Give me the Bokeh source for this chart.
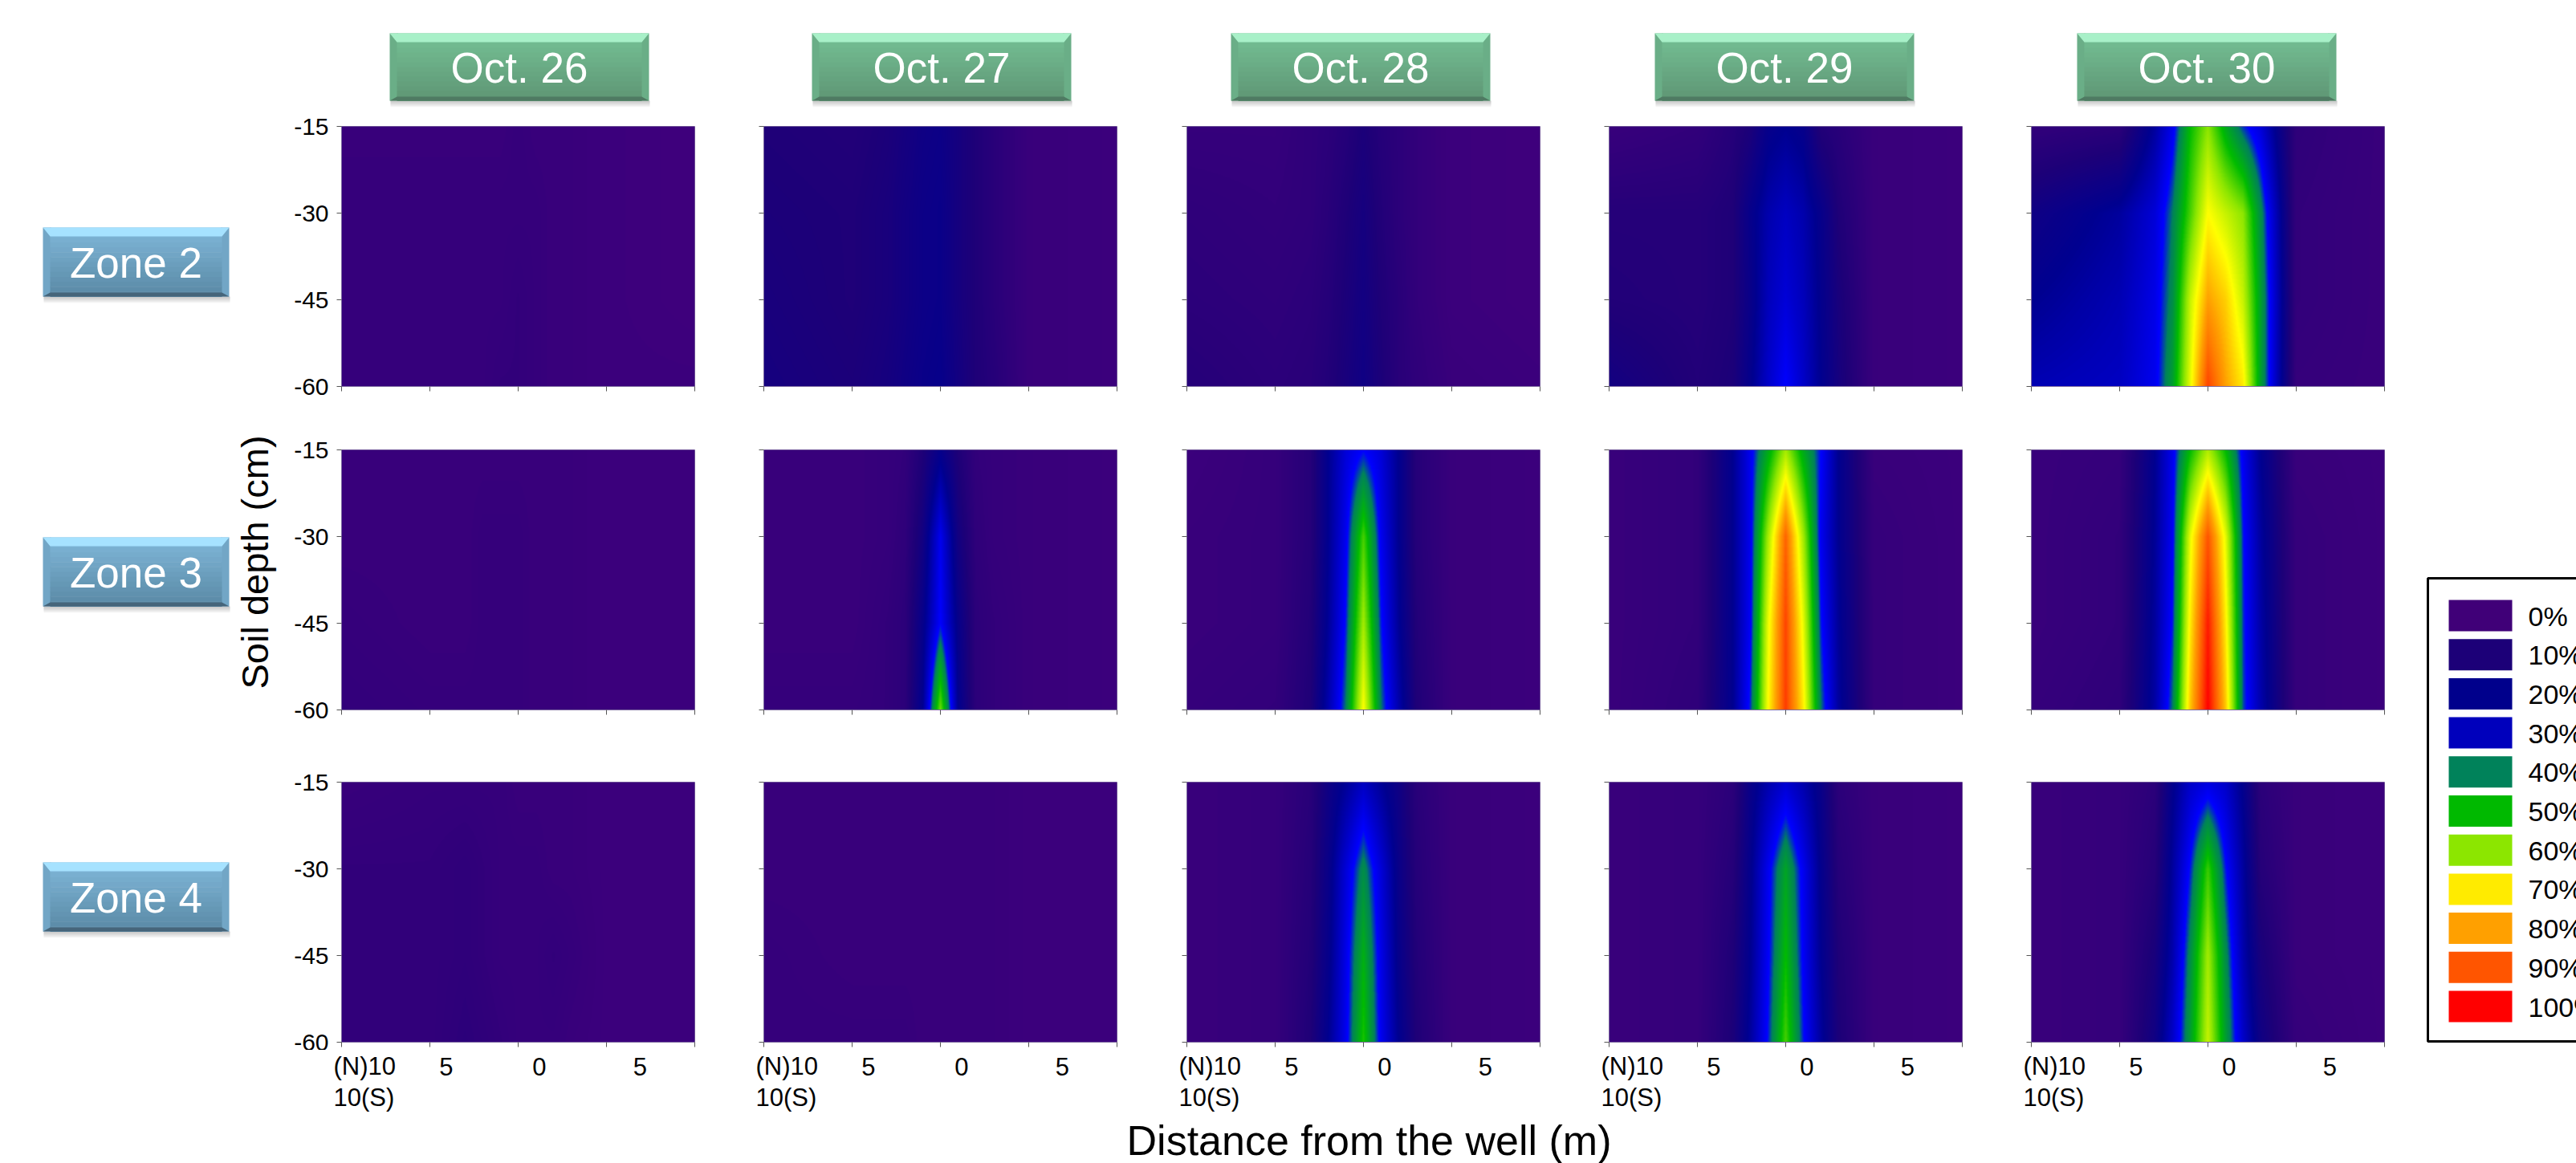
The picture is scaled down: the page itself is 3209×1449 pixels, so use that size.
import numpy as np
from bokeh.core.properties import value
from bokeh.embed import file_html
from bokeh.layouts import column, row
from bokeh.models import FixedTicker, LinearColorMapper, Range1d
from bokeh.plotting import figure
from bokeh.resources import INLINE

# ---- data ----
DATES = ["Oct. 26", "Oct. 27", "Oct. 28", "Oct. 29", "Oct. 30"]
ZONES = ["Zone 2", "Zone 3", "Zone 4"]
DEPTHS = [-15, -30, -45, -60]
STATIONS = [-10, -5, -3, -2, -1, 0, 1, 2, 3, 5, 10]
X_TICKS = [-10, -5, 0, 5, 10]
Y_TICKS = [-60, -45, -30, -15]
LEGEND_LABELS = ["0%", "10%", "20%", "30%", "40%", "50%", "60%", "70%", "80%", "90%", "100%"]
LEGEND_COLORS = ["#400078", "#1c0078", "#00008c", "#0000bc", "#00825a", "#00b900",
                 "#8ce600", "#ffeb00", "#ffa000", "#ff5500", "#ff0000"]
SCALE_LEVELS = [0, 10, 20, 30, 35, 40, 50, 60, 70, 80, 90, 100]
SCALE_COLORS = ["#3e007c", "#1e0078", "#000090", "#0000d8", "#0000ff", "#00825a", "#00bb00",
                "#8ce600", "#ffff00", "#ffa000", "#ff5500", "#ff0000"]

Z2_OCT26 = [[2, 2, 2, 2, 2, 3, 2, 2, 2, 1, 0], [3, 3, 3, 3, 3, 3, 3, 2, 2, 1, 0],
            [3, 3, 3, 3, 3, 4, 3, 2, 2, 1, 0], [3, 3, 3, 3, 4, 4, 3, 2, 2, 1, 1]]
Z2_OCT27 = [[10, 9, 11, 13, 15, 16, 13, 10, 7, 2, 1], [11, 10, 12, 14, 16, 17, 13, 10, 7, 2, 1],
            [12, 10, 12, 14, 16, 17, 13, 10, 7, 2, 1], [13, 11, 13, 15, 17, 18, 14, 10, 8, 2, 1]]
Z2_OCT28 = [[3, 3, 5, 6, 8, 11, 8, 6, 4, 1, 0], [5, 4, 5, 7, 10, 13, 9, 6, 4, 1, 0],
            [6, 5, 6, 8, 11, 14, 10, 7, 4, 1, 0], [8, 6, 7, 9, 12, 15, 11, 7, 5, 2, 1]]
Z2_OCT29 = [[2, 4, 8, 11, 18, 20, 18, 9, 7, 2, 1], [8, 8, 10, 18, 24, 27, 24, 18, 10, 2, 1],
            [9, 8, 10, 17, 26, 30, 26, 19, 12, 2, 1], [14, 9, 11, 19, 28, 35, 28, 20, 13, 2, 1]]
Z2_OCT30 = [[4, 6, 22, 33, 50, 60, 47, 37, 30, 5, 2], [15, 22, 30, 40, 55, 70, 65, 60, 42, 4, 2],
            [20, 25, 32, 42, 65, 80, 75, 65, 45, 4, 2], [25, 27, 33, 45, 68, 92, 80, 72, 45, 3, 2]]

Z3_OCT26 = [[2, 2, 2, 2, 2, 2, 2, 2, 2, 1, 1], [2, 2, 2, 3, 3, 3, 2, 2, 2, 1, 1],
            [3, 2, 2, 3, 3, 3, 2, 2, 2, 1, 1], [4, 3, 3, 3, 3, 3, 2, 2, 2, 1, 1]]
Z3_OCT27 = [[2, 2, 3, 4, 10, 18, 10, 4, 3, 2, 1], [2, 2, 3, 5, 14, 33, 14, 5, 3, 2, 1],
            [2, 2, 4, 6, 18, 35, 18, 6, 4, 2, 1], [3, 3, 4, 6, 20, 58, 20, 6, 4, 2, 1]]
Z3_OCT28 = [[1, 3, 8, 20, 30, 35, 30, 20, 8, 2, 1], [2, 3, 8, 20, 33, 55, 33, 20, 8, 2, 1],
            [2, 3, 9, 21, 36, 62, 36, 21, 9, 2, 1], [3, 4, 10, 24, 40, 70, 40, 24, 10, 2, 1]]
Z3_OCT29 = [[2, 4, 20, 33, 47, 62, 47, 35, 20, 2, 1], [2, 4, 20, 33, 62, 88, 62, 33, 20, 3, 1],
            [2, 4, 20, 34, 68, 92, 68, 36, 21, 3, 1], [2, 5, 20, 37, 70, 93, 72, 40, 22, 3, 1]]
Z3_OCT30 = [[2, 3, 20, 33, 50, 63, 50, 33, 20, 2, 1], [2, 4, 21, 34, 68, 90, 68, 36, 22, 3, 1],
            [2, 4, 22, 36, 72, 97, 72, 37, 23, 3, 1], [3, 5, 23, 40, 76, 100, 76, 38, 24, 3, 1]]

Z4_OCT26 = [[2, 3, 3, 3, 3, 2, 2, 2, 2, 1, 1], [4, 4, 5, 4, 3, 3, 3, 2, 2, 1, 1],
            [4, 4, 5, 4, 3, 3, 3, 4, 3, 1, 1], [4, 4, 6, 5, 4, 3, 3, 3, 2, 1, 1]]
Z4_OCT27 = [[2, 2, 2, 2, 2, 2, 2, 2, 2, 1, 1], [2, 2, 2, 2, 2, 2, 2, 2, 2, 1, 1],
            [3, 2, 2, 2, 2, 2, 2, 2, 2, 1, 1], [3, 3, 3, 3, 2, 2, 2, 2, 2, 1, 1]]
Z4_OCT28 = [[2, 3, 7, 15, 21, 27, 21, 15, 7, 2, 1], [2, 3, 8, 17, 30, 42, 30, 17, 8, 2, 1],
            [2, 3, 9, 18, 32, 48, 32, 18, 9, 2, 1], [2, 3, 10, 20, 33, 52, 33, 20, 10, 2, 1]]
Z4_OCT29 = [[2, 3, 6, 17, 24, 29, 24, 17, 6, 2, 1], [2, 3, 8, 19, 33, 46, 33, 19, 8, 2, 1],
            [2, 3, 10, 20, 34, 50, 34, 20, 10, 2, 1], [2, 3, 11, 22, 36, 55, 36, 22, 11, 2, 1]]
Z4_OCT30 = [[2, 3, 6, 19, 28, 31, 28, 19, 6, 2, 1], [2, 3, 8, 22, 36, 54, 36, 22, 8, 2, 1],
            [2, 3, 12, 24, 42, 62, 42, 24, 12, 2, 1], [2, 3, 15, 28, 45, 65, 45, 28, 15, 3, 1]]

PANELS = [[Z2_OCT26, Z2_OCT27, Z2_OCT28, Z2_OCT29, Z2_OCT30],
          [Z3_OCT26, Z3_OCT27, Z3_OCT28, Z3_OCT29, Z3_OCT30],
          [Z4_OCT26, Z4_OCT27, Z4_OCT28, Z4_OCT29, Z4_OCT30]]

# ---- layout (page pixels) ----
FONT = "Liberation Sans"
PAGE_W, PAGE_H = 3209, 1449
FRAME_W, FRAME_H = 440, 324
BORDER_R = 3
GAPS_X = [75, 83, 84, 83, 83]          # left border of each panel figure
TOP_BORDER = [10, 40, 46]
BOTTOM_BORDER = [39, 44, 10]
LEFT_W = 350
TOP_H = 147
HEADER_BOXES = [(485, 808), (1011, 1334), (1533, 1856), (2061, 2384), (2587, 2910)]
ZONE_BOXES = [(283, 369), (669, 755), (1074, 1160)]
GREEN = dict(top="#a8f0c8", a="#74bf94", b="#5f9775", bottom="#4f7a62", side="#6aae87")
BLUE = dict(top="#a6e2ff", a="#7fb6d8", b="#5a8aa6", bottom="#46657a", side="#72a6c6")
PANEL_LEFT = [425, 951, 1478, 2004, 2530]
PX_PER_M = FRAME_W / 20
TICK_TEXT_CENTERS = [("5", -4.07), ("0", 1.2), ("5", 6.9)]


def hex_rgb(c):
    return np.array([int(c[i:i + 2], 16) for i in (1, 3, 5)], float)


def rgb_hex(v):
    return "#%02x%02x%02x" % tuple(int(round(t)) for t in v)


levels = np.linspace(0, 100, 256)
rgb = np.array([hex_rgb(c) for c in SCALE_COLORS])
palette = [rgb_hex([np.interp(l, SCALE_LEVELS, rgb[:, k]) for k in range(3)]) for l in levels]
mapper = LinearColorMapper(palette=palette, low=0, high=100)


def field(table):
    xs = np.linspace(STATIONS[0], STATIONS[-1], FRAME_W)
    ys = np.linspace(DEPTHS[-1], DEPTHS[0], FRAME_H)
    by_depth = np.array([np.interp(xs, STATIONS, r) for r in table])[::-1]
    depth_up = DEPTHS[::-1]
    return np.array([[np.interp(y, depth_up, by_depth[:, j]) for j in range(FRAME_W)] for y in ys])


def strip(x0, y0, w, h):
    p = figure(width=w, height=h, x_range=Range1d(x0, x0 + w), y_range=Range1d(y0 + h, y0),
               toolbar_location=None, output_backend="svg", min_border=0)
    p.axis.visible = False
    p.grid.visible = False
    p.outline_line_color = None
    return p


def button(p, x0, x1, y0, y1, c, text):
    sides, t, b = 9, 11, 5
    for i in range(8):
        p.quad(left=x0 + 1, right=x1 + 1, top=y1 + i, bottom=y1 + i + 1, fill_color="#555555",
               fill_alpha=0.35 * (1 - i / 8), line_color=None)
    n = 14
    h = (y1 - y0) / n
    c0, c1 = hex_rgb(c["a"]), hex_rgb(c["b"])
    p.quad(left=x0, right=x0 + sides + 1, top=y0, bottom=y1, fill_color=c["side"], line_color=None)
    p.quad(left=x1 - sides - 1, right=x1, top=y0, bottom=y1, fill_color=c["side"], line_color=None)
    for i in range(n):
        col = rgb_hex(c0 + (c1 - c0) * i / (n - 1))
        p.quad(left=x0 + sides, right=x1 - sides, top=y0 + i * h, bottom=y0 + (i + 1) * h + 0.5,
               fill_color=col, line_color=None)
    p.patch([x0, x1, x1 - sides, x0 + sides], [y0, y0, y0 + t, y0 + t], fill_color=c["top"], line_color=None)
    p.patch([x0, x1, x1 - sides, x0 + sides], [y1, y1, y1 - b, y1 - b], fill_color=c["bottom"], line_color=None)
    p.text([(x0 + x1) / 2], [(y0 + y1) / 2 + 1], text=[text], text_color="white", text_align="center",
           text_baseline="middle", text_font=value(FONT), text_font_size="53px")


top = strip(0, 0, PAGE_W, TOP_H)
for (x0, x1), d in zip(HEADER_BOXES, DATES):
    button(top, x0, x1, 41, 125, GREEN, d)

grid_h = sum(TOP_BORDER) + sum(BOTTOM_BORDER) + 3 * FRAME_H
left = strip(0, TOP_H, LEFT_W, grid_h)
for (y0, y1), z in zip(ZONE_BOXES, ZONES):
    button(left, 53, 285, y0, y1, BLUE, z)
left.text([317], [700], text=["Soil depth (cm)"], angle=np.pi / 2, text_align="center", text_baseline="middle",
          text_color="black", text_font=value(FONT), text_font_size="47px")

rows = []
for r, zone_panels in enumerate(PANELS):
    figs = []
    for c, table in enumerate(zone_panels):
        w = GAPS_X[c] + FRAME_W + BORDER_R
        h = TOP_BORDER[r] + FRAME_H + BOTTOM_BORDER[r]
        p = figure(width=w, height=h, x_range=Range1d(-10, 10), y_range=Range1d(-60, -15),
                   toolbar_location=None, output_backend="svg",
                   min_border_left=GAPS_X[c], min_border_right=BORDER_R,
                   min_border_top=TOP_BORDER[r], min_border_bottom=BOTTOM_BORDER[r])
        p.image(image=[field(table)], x=-10, y=-60, dw=20, dh=45, color_mapper=mapper)
        p.grid.visible = False
        p.outline_line_color = "#7d6aa0"
        p.outline_line_width = 1
        p.xaxis.ticker = FixedTicker(ticks=X_TICKS)
        p.yaxis.ticker = FixedTicker(ticks=Y_TICKS)
        p.xaxis.major_label_overrides = {t: "" for t in X_TICKS}
        p.yaxis.major_label_overrides = {t: ("" if c else str(t)) for t in Y_TICKS}
        p.yaxis.major_label_text_font = FONT
        p.yaxis.major_label_text_font_size = "30px"
        p.yaxis.major_label_text_color = "black"
        p.yaxis.major_label_standoff = 10
        p.axis.minor_tick_line_color = None
        p.axis.major_tick_in = 0
        p.axis.major_tick_out = 6
        p.axis.major_tick_line_color = "#555555"
        p.axis.axis_line_color = "#7d6aa0"
        figs.append(p)
    rows.append(row(*figs, spacing=0))
grid = column(*rows, spacing=0)

grid_w = sum(GAPS_X) + 5 * (FRAME_W + BORDER_R)
right_x0 = LEFT_W + grid_w
right = strip(right_x0, TOP_H, PAGE_W - right_x0, grid_h)
right.quad(left=3024, right=3300, top=720, bottom=1297, fill_color="white", line_color="black", line_width=3)
for i, (lab, col) in enumerate(zip(LEGEND_LABELS, LEGEND_COLORS)):
    y = 747 + 48.7 * i
    right.quad(left=3050, right=3129, top=y, bottom=y + 39, fill_color=col, line_color=None)
    right.text([3149], [y + 20], text=[lab], text_baseline="middle", text_color="black",
               text_font=value(FONT), text_font_size="34px")

bottom_y = TOP_H + grid_h
bottom = strip(0, bottom_y, PAGE_W, PAGE_H - bottom_y)
tick_font = dict(text_color="black", text_font=value(FONT), text_font_size="31px", text_baseline="middle")
for x0 in PANEL_LEFT:
    bottom.text([x0 - 10], [1328], text=["(N)10"], text_align="left", **tick_font)
    bottom.text([x0 - 10], [1367], text=["10(S)"], text_align="left", **tick_font)
    for txt, v in TICK_TEXT_CENTERS:
        bottom.text([x0 + (v + 10) * PX_PER_M], [1328], text=[txt], text_align="center", **tick_font)
bottom.text([1705], [1420], text=["Distance from the well (m)"], text_align="center", text_baseline="middle",
            text_color="black", text_font=value(FONT), text_font_size="52px")

page = column(top, row(left, grid, right, spacing=0), bottom, spacing=0)
open("out.html", "w").write(file_html(page, INLINE))
